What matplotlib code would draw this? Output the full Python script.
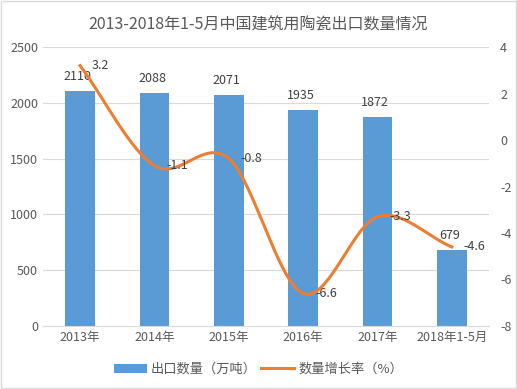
import matplotlib
matplotlib.use('Agg')
import matplotlib.pyplot as plt
import numpy as np

plt.rcParams['font.family'] = ['Noto Sans CJK SC', 'DejaVu Sans']
plt.rcParams['axes.unicode_minus'] = False

years = ['2013年', '2014年', '2015年', '2016年', '2017年', '2018年1-5月']
export_qty = [2110, 2088, 2071, 1935, 1872, 679]
growth = [3.2, -1.1, -0.8, -6.6, -3.3, -4.6]

grey = '#595959'
bar_c = '#5B9BD5'
line_c = '#ED7D31'


def catmull(x, y, n=40):
    # smooth curve through the points, Excel-like
    x = np.asarray(x, float)
    y = np.asarray(y, float)
    px = np.concatenate([[2 * x[0] - x[1]], x, [2 * x[-1] - x[-2]]])
    py = np.concatenate([[2 * y[0] - y[1]], y, [2 * y[-1] - y[-2]]])
    xs, ys = [], []
    for i in range(1, len(px) - 2):
        t = np.linspace(0, 1, n)
        for p, out in ((px, xs), (py, ys)):
            p0, p1, p2, p3 = p[i - 1], p[i], p[i + 1], p[i + 2]
            out.append(0.5 * ((2 * p1) + (-p0 + p2) * t
                              + (2 * p0 - 5 * p1 + 4 * p2 - p3) * t ** 2
                              + (-p0 + 3 * p1 - 3 * p2 + p3) * t ** 3))
    return np.concatenate(xs), np.concatenate(ys)


fig = plt.figure(figsize=(5.17, 3.89), dpi=100)
ax = fig.add_axes([0.083, 0.162, 0.863, 0.717])
x = np.arange(len(years))

ax.bar(x, export_qty, width=0.4, color=bar_c, label='出口数量（万吨）', zorder=2)
ax.set_ylim(0, 2500)
ax.set_yticks(range(0, 2501, 500))
ax.set_xlim(-0.5, len(years) - 0.5)
ax.set_xticks(x)
ax.set_xticklabels(years)
ax.grid(axis='y', color='#D9D9D9', linewidth=0.8, zorder=0)
for s in ax.spines.values():
    s.set_visible(False)
ax.spines['bottom'].set_visible(True)
ax.spines['bottom'].set_color('#D9D9D9')
ax.tick_params(length=0, colors=grey, labelsize=9)
for xi, v in zip(x, export_qty):
    ax.text(xi - 0.03, v + 70, str(v), ha='center', va='bottom', fontsize=9, color='#404040')

ax2 = ax.twinx()
sx, sy = catmull(x, growth)
ax2.plot(sx, sy, color=line_c, linewidth=2.2, label='数量增长率（%）', zorder=3)
ax2.set_ylim(-8, 4)
ax2.set_yticks(range(-8, 5, 2))
for s in ax2.spines.values():
    s.set_visible(False)
ax2.tick_params(length=0, colors=grey, labelsize=9, pad=8)
for xi, v in zip(x, growth):
    ax2.text(xi + 0.16, v, str(v), ha='left', va='center', fontsize=9, color='#404040')

fig.text(0.5, 0.935, '2013-2018年1-5月中国建筑用陶瓷出口数量情况', ha='center', va='center',
         fontsize=11.5, color=grey)

h1, l1 = ax.get_legend_handles_labels()
h2, l2 = ax2.get_legend_handles_labels()
fig.legend(h1 + h2, l1 + l2, loc='center', bbox_to_anchor=(0.5, 0.05), ncol=2,
           frameon=False, fontsize=9.5, labelcolor=grey, handlelength=2.5,
           columnspacing=0.3, handletextpad=0.3)

fig.patches.append(plt.Rectangle((0.002, 0.002), 0.996, 0.996, transform=fig.transFigure,
                                 fill=False, edgecolor='#D9D9D9', linewidth=1))

fig.savefig('out.png', dpi=100)
